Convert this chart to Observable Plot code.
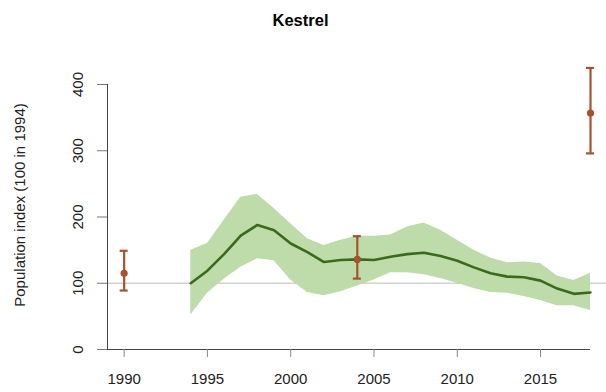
<!DOCTYPE html>
<html>
<head>
<meta charset="utf-8">
<script src="https://cdn.jsdelivr.net/npm/d3@7"></script>
<script src="https://cdn.jsdelivr.net/npm/@observablehq/plot@0.6"></script>
<style>
  html, body { margin: 0; padding: 0; background: #fff; }
  #chart { width: 606px; height: 392px; }
</style>
</head>
<body>
<div id="chart"></div>
<script>
// Smoothed population trend (index, 100 in 1994) with its confidence band
const trendYears = [1994, 1995, 1996, 1997, 1998, 1999, 2000, 2001, 2002, 2003, 2004, 2005, 2006,
                    2007, 2008, 2009, 2010, 2011, 2012, 2013, 2014, 2015, 2016, 2017, 2018];
const trendIndex = [100, 119, 144, 172, 188, 180, 160, 147, 132, 135, 136, 135, 140,
                    144, 146, 141, 134, 124, 115, 110, 109, 104, 92, 84, 86];
const trendUpper = [150, 160, 195, 230, 234, 213, 190, 167, 157, 165, 171, 171, 173,
                    185, 191, 180, 165, 150, 138, 131, 132, 130, 111, 104, 115];
const trendLower = [52, 85, 106, 124, 137, 134, 105, 86, 81, 87, 96, 105, 116,
                    116, 113, 107, 100, 92, 86, 85, 80, 74, 66, 66, 59];

// Atlas survey estimates with their intervals
const surveyYears = [1990, 2004, 2018];
const surveyValue = [115, 136, 357];
const surveyLow = [89, 107, 296];
const surveyHigh = [149, 171, 425];

const xTicks = [1990, 1995, 2000, 2005, 2010, 2015];
const yTicks = [0, 100, 200, 300, 400];
const titleText = "Kestrel";
const yTitle = "Population index (100 in 1994)";

const trend = trendYears.map((year, i) => ({year, index: trendIndex[i], upper: trendUpper[i], lower: trendLower[i]}));
const survey = surveyYears.map((year, i) => ({year, value: surveyValue[i], low: surveyLow[i], high: surveyHigh[i]}));

const capHalf = 0.24; // half-width of the error-bar caps, in years
const brown = "#a5522d";

const chart = Plot.plot({
  width: 606,
  height: 392,
  marginLeft: 107,
  marginRight: 16,
  marginTop: 84,
  marginBottom: 43,
  style: {fontFamily: "'Liberation Sans', Arial, sans-serif", fontSize: "15px", color: "#222", background: "#fff"},
  x: {domain: [1989, 2018]},
  y: {domain: [0, 400]},
  marks: [
    Plot.ruleY([100], {x1: 1989, x2: 2019, stroke: "#d2d2d2", strokeWidth: 1.3}),
    Plot.areaY(trend, {x: "year", y1: "lower", y2: "upper", fill: "#bddcaa"}),
    Plot.lineY(trend, {x: "year", y: "index", stroke: "#3b6a1c", strokeWidth: 2.6}),
    Plot.ruleX(survey, {x: "year", y1: "low", y2: "high", stroke: brown, strokeWidth: 2.2}),
    Plot.ruleY(survey, {y: "low", x1: d => d.year - capHalf, x2: d => d.year + capHalf, stroke: brown, strokeWidth: 2.2}),
    Plot.ruleY(survey, {y: "high", x1: d => d.year - capHalf, x2: d => d.year + capHalf, stroke: brown, strokeWidth: 2.2}),
    Plot.dot(survey, {x: "year", y: "value", r: 3.6, fill: brown}),
    // axis lines
    Plot.ruleX([1989], {y1: 0, y2: 400, stroke: "#444"}),
    Plot.ruleY([0], {x1: 1988.4, x2: 2018, stroke: "#444"}),
    Plot.axisY({ticks: yTicks, tickSize: 10, tickRotate: -90, tickPadding: 15, stroke: "#777", label: null}),
    Plot.axisX({ticks: xTicks, tickFormat: "d", tickSize: 8, tickPadding: 16, stroke: "#888", label: null}),
    Plot.text([yTitle], {frameAnchor: "left", textAnchor: "middle", rotate: -90, dx: -87, dy: -12, fontSize: 15, fill: "#222"}),
    Plot.text([titleText], {frameAnchor: "top", dx: -48.5, dy: -59, lineAnchor: "bottom", fontSize: 16.5, fontWeight: "bold", fill: "#000"})
  ]
});
document.getElementById("chart").appendChild(chart);
</script>
</body>
</html>
